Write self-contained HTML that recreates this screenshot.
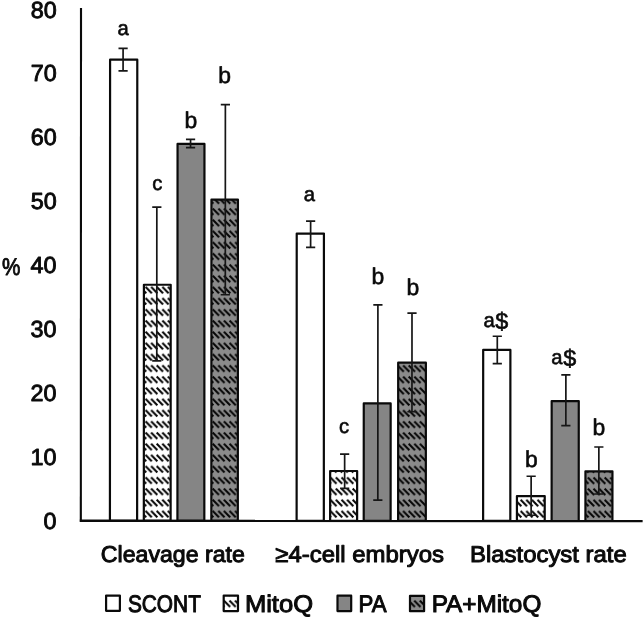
<!DOCTYPE html>
<html><head><meta charset="utf-8"><title>chart</title>
<style>
html,body{margin:0;padding:0;background:#fff;}
svg{display:block;}
text{font-family:"Liberation Sans",sans-serif;fill:#0a0a0a;stroke:#0a0a0a;stroke-linejoin:round;text-rendering:geometricPrecision;}
</style></head><body>
<svg width="644" height="617" viewBox="0 0 644 617">
<defs>
<pattern id="hw" patternUnits="userSpaceOnUse" x="0.3" y="7.35" width="5.6" height="11.2">
<rect width="5.6" height="11.2" fill="#fff"/>
<path d="M-5.95 -0.35L0.35 5.95M-5.95 10.85L0.35 17.15M-0.35 -0.35L5.95 5.95M-0.35 10.85L5.95 17.15M5.25 -0.35L11.55 5.95M5.25 10.85L11.55 17.15" stroke="#050505" stroke-width="2.05"/>
</pattern>
<pattern id="hg" patternUnits="userSpaceOnUse" x="0.3" y="7.35" width="5.6" height="11.2">
<rect width="5.6" height="11.2" fill="#8b8b8b"/>
<path d="M-5.95 -0.35L0.35 5.95M-5.95 10.85L0.35 17.15M-0.35 -0.35L5.95 5.95M-0.35 10.85L5.95 17.15M5.25 -0.35L11.55 5.95M5.25 10.85L11.55 17.15" stroke="#050505" stroke-width="2.05"/>
</pattern>
<filter id="soft" x="0" y="0" width="644" height="617" filterUnits="userSpaceOnUse" color-interpolation-filters="sRGB"><feGaussianBlur stdDeviation="0.5"/></filter>
</defs>
<rect width="644" height="617" fill="#fff"/>
<g filter="url(#soft)"><g transform="rotate(0.02 322 308)">
<rect width="644" height="617" fill="#fff"/>

<rect x="110.0" y="59.7" width="27.2" height="461.2" fill="#fff" stroke="#0a0a0a" stroke-width="2.2" stroke-linejoin="round"/>
<rect x="143.9" y="284.8" width="26.8" height="236.1" fill="url(#hw)" stroke="#0a0a0a" stroke-width="2.2" stroke-linejoin="round"/>
<rect x="177.5" y="144.0" width="26.9" height="376.9" fill="#858585" stroke="#0a0a0a" stroke-width="2.2" stroke-linejoin="round"/>
<rect x="211.4" y="199.7" width="26.5" height="321.2" fill="url(#hg)" stroke="#0a0a0a" stroke-width="2.2" stroke-linejoin="round"/>
<rect x="296.7" y="233.6" width="27.2" height="287.3" fill="#fff" stroke="#0a0a0a" stroke-width="2.2" stroke-linejoin="round"/>
<rect x="330.2" y="471.0" width="27.0" height="49.9" fill="url(#hw)" stroke="#0a0a0a" stroke-width="2.2" stroke-linejoin="round"/>
<rect x="363.8" y="403.4" width="26.9" height="117.5" fill="#858585" stroke="#0a0a0a" stroke-width="2.2" stroke-linejoin="round"/>
<rect x="398.2" y="362.6" width="27.7" height="158.3" fill="url(#hg)" stroke="#0a0a0a" stroke-width="2.2" stroke-linejoin="round"/>
<rect x="483.2" y="349.9" width="27.2" height="171.0" fill="#fff" stroke="#0a0a0a" stroke-width="2.2" stroke-linejoin="round"/>
<rect x="517.0" y="496.0" width="27.8" height="24.9" fill="url(#hw)" stroke="#0a0a0a" stroke-width="2.2" stroke-linejoin="round"/>
<rect x="551.7" y="401.0" width="27.1" height="119.9" fill="#858585" stroke="#0a0a0a" stroke-width="2.2" stroke-linejoin="round"/>
<rect x="585.5" y="471.2" width="27.0" height="49.7" fill="url(#hg)" stroke="#0a0a0a" stroke-width="2.2" stroke-linejoin="round"/>
<path d="M123 48.4V70.9M118.4 48.4H127.6M118.4 70.9H127.6" stroke="#161616" stroke-width="1.7" fill="none"/>
<path d="M156.8 207.2V361M152.2 207.2H161.4M152.2 361H161.4" stroke="#161616" stroke-width="1.7" fill="none"/>
<path d="M190.5 139.4V147.6M185.9 139.4H195.1M185.9 147.6H195.1" stroke="#161616" stroke-width="1.7" fill="none"/>
<path d="M225.3 104.6V294.8M220.7 104.6H229.9M220.7 294.8H229.9" stroke="#161616" stroke-width="1.7" fill="none"/>
<path d="M310.6 221.1V247.3M306.0 221.1H315.2M306.0 247.3H315.2" stroke="#161616" stroke-width="1.7" fill="none"/>
<path d="M344.7 454.1V488.4M340.1 454.1H349.3M340.1 488.4H349.3" stroke="#161616" stroke-width="1.7" fill="none"/>
<path d="M377.9 304.9V500.2M373.3 304.9H382.5M373.3 500.2H382.5" stroke="#161616" stroke-width="1.7" fill="none"/>
<path d="M412 313.1V411.7M407.4 313.1H416.6M407.4 411.7H416.6" stroke="#161616" stroke-width="1.7" fill="none"/>
<path d="M497.3 336.2V363.6M492.7 336.2H501.9M492.7 363.6H501.9" stroke="#161616" stroke-width="1.7" fill="none"/>
<path d="M531.2 476.2V515.2M526.6 476.2H535.8M526.6 515.2H535.8" stroke="#161616" stroke-width="1.7" fill="none"/>
<path d="M565.9 374.7V425.6M561.3 374.7H570.5M561.3 425.6H570.5" stroke="#161616" stroke-width="1.7" fill="none"/>
<path d="M598.9 446.9V493.9M594.3 446.9H603.5M594.3 493.9H603.5" stroke="#161616" stroke-width="1.7" fill="none"/>
<path d="M80.9 8.2V521.9" stroke="#0a0a0a" stroke-width="2.1" fill="none"/>
<path d="M79.9 520.9H642.7" stroke="#0a0a0a" stroke-width="2.4" fill="none"/>
<text x="43.6" y="528.80" font-size="23.2" stroke-width="0.9" textLength="13.0" lengthAdjust="spacingAndGlyphs">0</text>
<text x="30.6" y="464.90" font-size="23.2" stroke-width="0.9" textLength="26.0" lengthAdjust="spacingAndGlyphs">10</text>
<text x="30.6" y="401.00" font-size="23.2" stroke-width="0.9" textLength="26.0" lengthAdjust="spacingAndGlyphs">20</text>
<text x="30.6" y="337.10" font-size="23.2" stroke-width="0.9" textLength="26.0" lengthAdjust="spacingAndGlyphs">30</text>
<text x="30.6" y="273.20" font-size="23.2" stroke-width="0.9" textLength="26.0" lengthAdjust="spacingAndGlyphs">40</text>
<text x="30.6" y="209.30" font-size="23.2" stroke-width="0.9" textLength="26.0" lengthAdjust="spacingAndGlyphs">50</text>
<text x="30.6" y="145.40" font-size="23.2" stroke-width="0.9" textLength="26.0" lengthAdjust="spacingAndGlyphs">60</text>
<text x="30.6" y="81.50" font-size="23.2" stroke-width="0.9" textLength="26.0" lengthAdjust="spacingAndGlyphs">70</text>
<text x="30.6" y="17.60" font-size="23.2" stroke-width="0.9" textLength="26.0" lengthAdjust="spacingAndGlyphs">80</text>
<text x="1.9" y="274.8" font-size="24.2" stroke-width="0.9" textLength="18.4" lengthAdjust="spacingAndGlyphs">%</text>
<text x="123" y="35" font-size="20.2" stroke-width="0.6" text-anchor="middle">a</text>
<text x="157.3" y="190" font-size="20.2" stroke-width="0.6" text-anchor="middle">c</text>
<text x="190.8" y="128" font-size="22.9" stroke-width="0.6" text-anchor="middle">b</text>
<text x="224.6" y="83" font-size="22.9" stroke-width="0.6" text-anchor="middle">b</text>
<text x="309.3" y="201" font-size="20.2" stroke-width="0.6" text-anchor="middle">a</text>
<text x="344.2" y="433" font-size="20.2" stroke-width="0.6" text-anchor="middle">c</text>
<text x="377.8" y="284" font-size="22.9" stroke-width="0.6" text-anchor="middle">b</text>
<text x="412.8" y="295" font-size="22.9" stroke-width="0.6" text-anchor="middle">b</text>
<text x="483.4" y="327" font-size="20.2" stroke-width="0.6"><tspan>a</tspan><tspan font-size="23.4" dx="0.6" dy="2">$</tspan></text>
<text x="531.4" y="467" font-size="22.9" stroke-width="0.6" text-anchor="middle">b</text>
<text x="551.4" y="364" font-size="20.2" stroke-width="0.6"><tspan>a</tspan><tspan font-size="23.4" dx="0.6" dy="2">$</tspan></text>
<text x="599" y="435" font-size="22.9" stroke-width="0.6" text-anchor="middle">b</text>
<text x="100.9" y="562.2" font-size="23.0" stroke-width="1" textLength="144.1" lengthAdjust="spacingAndGlyphs">Cleavage rate</text>
<text x="275.4" y="562.2" font-size="23.0" stroke-width="1" textLength="168.6" lengthAdjust="spacingAndGlyphs">≥4-cell embryos</text>
<text x="470.2" y="562.2" font-size="23.0" stroke-width="1" textLength="156.6" lengthAdjust="spacingAndGlyphs">Blastocyst rate</text>
<rect x="106.2" y="595.6" width="13.8" height="15.3" fill="#fff" stroke="#0a0a0a" stroke-width="2.2" stroke-linejoin="round"/>
<text x="128.0" y="611.6" font-size="24.0" stroke-width="1" textLength="73.0" lengthAdjust="spacingAndGlyphs">SCONT</text>
<rect x="223.8" y="595.6" width="14.3" height="15.5" fill="url(#hw)" stroke="#0a0a0a" stroke-width="2.2" stroke-linejoin="round"/>
<text x="245.0" y="611.6" font-size="24.0" stroke-width="1" textLength="68.2" lengthAdjust="spacingAndGlyphs">MitoQ</text>
<rect x="337.6" y="595.7" width="13.7" height="15.4" fill="#858585" stroke="#0a0a0a" stroke-width="2.2" stroke-linejoin="round"/>
<text x="358.6" y="611.6" font-size="24.0" stroke-width="1" textLength="28.0" lengthAdjust="spacingAndGlyphs">PA</text>
<rect x="410.1" y="595.8" width="14.1" height="15.3" fill="url(#hg)" stroke="#0a0a0a" stroke-width="2.2" stroke-linejoin="round"/>
<text x="431.8" y="611.6" font-size="24.0" stroke-width="1" textLength="109.6" lengthAdjust="spacingAndGlyphs">PA+MitoQ</text>
</g></g></svg></body></html>
